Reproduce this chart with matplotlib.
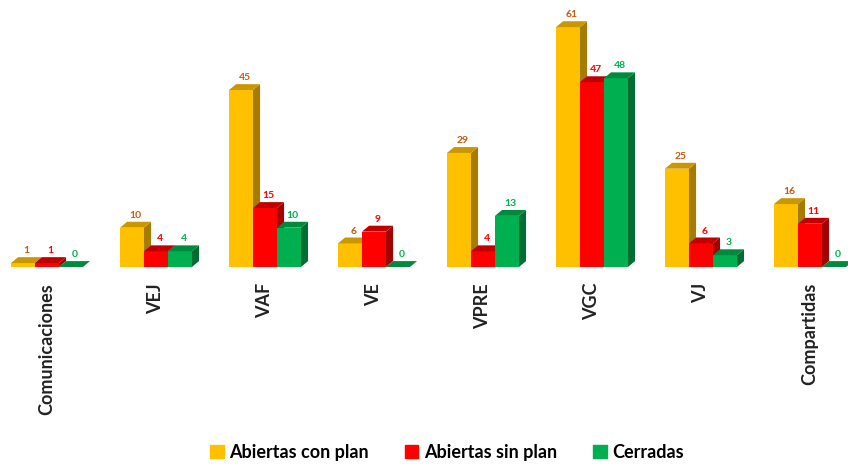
import matplotlib.pyplot as plt
from matplotlib.patches import Polygon
import numpy as np

plt.rcParams['font.family'] = ['Lato', 'DejaVu Sans']

categorias = ['Comunicaciones', 'VEJ', 'VAF', 'VE', 'VPRE', 'VGC', 'VJ', 'Compartidas']
con_plan = [1, 10, 45, 6, 29, 61, 25, 16]
sin_plan = [1, 4, 15, 9, 4, 47, 6, 11]
cerradas = [0, 4, 10, 0, 13, 48, 3, 0]

series = [
    ('Abiertas con plan', con_plan, '#FFC000', '#A67C00', '#C99700', '#C55A11'),
    ('Abiertas sin plan', sin_plan, '#FF0000', '#A50000', '#C00000', '#FF0000'),
    ('Cerradas', cerradas, '#00B050', '#006E32', '#008A3E', '#00B050'),
]

fig = plt.figure(figsize=(8.48, 4.68), dpi=100)
ax = fig.add_axes([0, 0.4295, 1, 0.5705])
ax.set_xlim(-0.431, 7.349)
ax.set_ylim(0, 67.9)
ax.axis('off')

x = np.arange(len(categorias))
w = 0.22
dx = 0.065   # profundidad horizontal
dy = 1.5     # profundidad vertical

for i, (nombre, vals, c, c_lado, c_top, c_txt) in enumerate(series):
    pos = x + (i - 1) * w
    for xp, v in zip(pos, vals):
        x0 = xp - w / 2
        x1 = xp + w / 2
        # cara lateral
        ax.add_patch(Polygon([(x1, 0), (x1 + dx, dy), (x1 + dx, v + dy), (x1, v)],
                             closed=True, facecolor=c_lado, edgecolor='none', zorder=2))
        # cara frontal
        ax.bar(xp, v, width=w, color=c, edgecolor='none', zorder=2)
        # cara superior
        ax.add_patch(Polygon([(x0, v), (x0 + dx, v + dy), (x1 + dx, v + dy), (x1, v)],
                             closed=True, facecolor=c_top, edgecolor='none', zorder=2))
        ax.text(xp + dx / 2, v + dy + 0.5, str(v), ha='center', va='bottom',
                fontsize=7.5, fontweight='bold', color=c_txt, zorder=3)

for xc, nombre in zip(x, categorias):
    fig.text((xc + 0.431) / 7.78, 1 - 283 / 468, nombre, rotation=90, ha='center', va='top',
             fontsize=13, fontweight='bold', color='#222222')

handles = [plt.Rectangle((0, 0), 1, 1, color=s[2]) for s in series]
fig.legend(handles, [s[0] for s in series], loc='center', bbox_to_anchor=(0.527, 0.033),
           ncol=3, frameon=False, handlelength=0.75, handleheight=0.75,
           handletextpad=0.3, columnspacing=2.0,
           prop={'weight': 'bold', 'size': 13})

fig.savefig('out.png', dpi=100)
